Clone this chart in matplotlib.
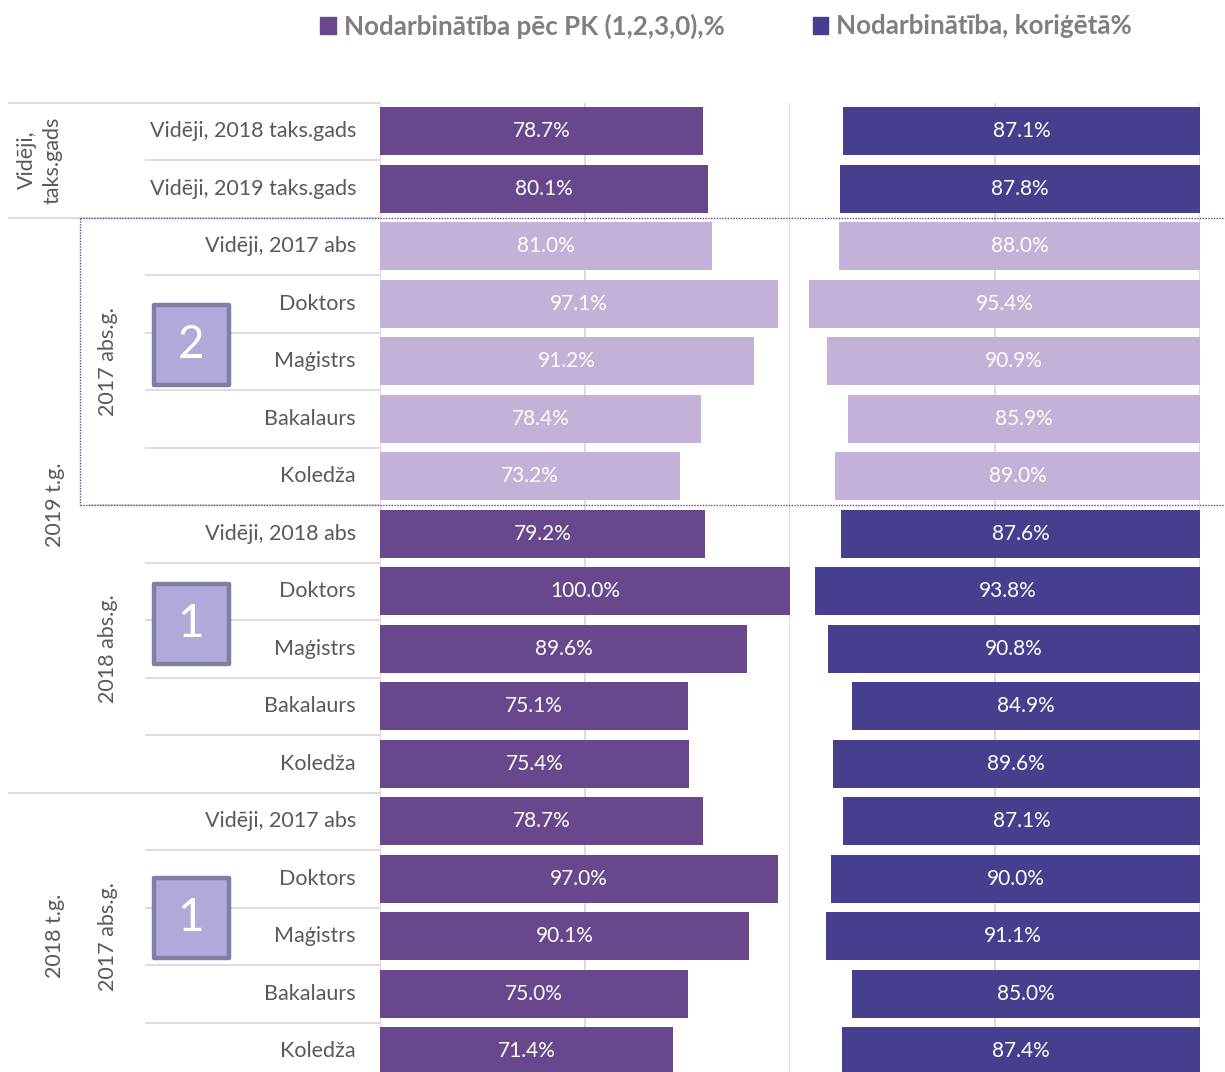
import matplotlib.pyplot as plt
import matplotlib.transforms as mtransforms
from matplotlib.patches import Patch, Rectangle
from matplotlib.lines import Line2D

plt.rcParams['font.family'] = ['Lato', 'DejaVu Sans']

# --- data -------------------------------------------------------------
rows = ['Vidēji, 2018 taks.gads', 'Vidēji, 2019 taks.gads',
        'Vidēji, 2017 abs', 'Doktors', 'Maģistrs', 'Bakalaurs', 'Koledža',
        'Vidēji, 2018 abs', 'Doktors', 'Maģistrs', 'Bakalaurs', 'Koledža',
        'Vidēji, 2017 abs', 'Doktors', 'Maģistrs', 'Bakalaurs', 'Koledža']
pk = [78.7, 80.1, 81.0, 97.1, 91.2, 78.4, 73.2, 79.2, 100.0, 89.6,
      75.1, 75.4, 78.7, 97.0, 90.1, 75.0, 71.4]
kor = [87.1, 87.8, 88.0, 95.4, 90.9, 85.9, 89.0, 87.6, 93.8, 90.8,
       84.9, 89.6, 87.1, 90.0, 91.1, 85.0, 87.4]
light_rows = [2, 3, 4, 5, 6]

# hierarchy: (label, first row, last row)
year_groups = [('Vidēji,\ntaks.gads', 0, 1), ('2019 t.g.', 2, 11),
               ('2018 t.g.', 12, 16)]
abs_groups = [('2017 abs.g.', 2, 6), ('2018 abs.g.', 7, 11),
              ('2017 abs.g.', 12, 16)]
badges = [('2', 3.72), ('1', 8.57), ('1', 13.68)]

series_names = ['Nodarbinātība pēc PK (1,2,3,0),%', 'Nodarbinātība, koriģētā%']

# --- style ------------------------------------------------------------
c_pk = '#68478D'
c_kor = '#463F8E'
c_light = '#C3B1D7'
c_grid = '#D9D9D9'
c_text = '#595959'
fs = 15.5

W, H = 1225, 1072
fig = plt.figure(figsize=(W / 100, H / 100), dpi=100)

n = len(rows)
top_px, row_px = 102.5, 57.5
ax_h = n * row_px / H
ax_b = 1 - top_px / H - ax_h

ax_lab = fig.add_axes([0, ax_b, 380 / W, ax_h])
ax1 = fig.add_axes([380 / W, ax_b, 410 / W, ax_h], sharey=ax_lab)
ax2 = fig.add_axes([790 / W, ax_b, 410 / W, ax_h], sharey=ax_lab)

ax_lab.set_xlim(0, 380)
ax_lab.set_ylim(n - 0.5, -0.5)
ax1.set_xlim(0, 100)
ax2.set_xlim(100, 0)
for ax in (ax_lab, ax1, ax2):
    ax.axis('off')

y = list(range(n))
col1 = [c_light if i in light_rows else c_pk for i in y]
col2 = [c_light if i in light_rows else c_kor for i in y]

ax1.vlines([0, 50, 100], -0.5, n - 0.5, colors=c_grid, linewidth=1.3, zorder=0)
ax2.vlines([0, 50], -0.5, n - 0.5, colors=c_grid, linewidth=1.3, zorder=0)

ax1.barh(y, pk, height=0.835, color=col1, zorder=2)
ax2.barh(y, kor, height=0.835, color=col2, zorder=2)

for i in y:
    ax1.text(pk[i] / 2, i, f'{pk[i]:.1f}%', ha='center', va='center',
             color='white', fontsize=15, zorder=3)
    ax2.text(kor[i] / 2, i, f'{kor[i]:.1f}%', ha='center', va='center',
             color='white', fontsize=15, zorder=3)

# --- category labels and separators -----------------------------------
for i, lab in enumerate(rows):
    ax_lab.text(356, i, lab, ha='right', va='center', fontsize=fs,
                color=c_text)

sep_kw = dict(colors=c_grid, linewidth=1.3, clip_on=False)
group_edges = [g[1] for g in year_groups] + [g[1] for g in abs_groups]
for i in range(1, n):
    if i not in group_edges:
        ax_lab.hlines(i - 0.5, 145, 380, **sep_kw)
for name, a, b in year_groups:
    ax_lab.hlines(a - 0.5, 8, 380, **sep_kw)
for name, a, b in abs_groups:
    if a not in [g[1] for g in year_groups]:
        ax_lab.hlines(a - 0.5, 88, 380, **sep_kw)

for name, a, b in year_groups:
    x = 40 if '\n' in name else 55
    ax_lab.text(x, (a + b) / 2, name, rotation=90, ha='center', va='center',
                fontsize=fs, color=c_text, linespacing=1.35,
                multialignment='center')
for name, a, b in abs_groups:
    ax_lab.text(108, (a + b) / 2, name, rotation=90, ha='center',
                va='center', fontsize=fs, color=c_text)

# numbered badges
for txt, yc in badges:
    bh = 80 / row_px
    ax_lab.add_patch(Rectangle((191 - 37.5, yc - bh / 2), 75, bh,
                               facecolor='#AEAADA', edgecolor='#827EA3',
                               linewidth=3.2, joinstyle='round', zorder=4))
    ax_lab.text(191, yc, txt, ha='center', va='center', color='white',
                fontsize=33, zorder=5)

# dotted highlight frame round the light group
tr = mtransforms.blended_transform_factory(fig.transFigure, ax1.transData)
a, b = light_rows[0] - 0.5, light_rows[-1] + 0.5
dot_kw = dict(transform=tr, color='#5E4C8C', linewidth=1.0,
              linestyle=(0, (1, 1)), zorder=6)
fig.add_artist(Line2D([80 / W, 1.0], [a, a], **dot_kw))
fig.add_artist(Line2D([80 / W, 1.0], [b, b], **dot_kw))
fig.add_artist(Line2D([80 / W, 80 / W], [a, b], **dot_kw))

# --- legend -----------------------------------------------------------
handles = [Patch(color=c_pk, label=series_names[0]),
           Patch(color=c_kor, label=series_names[1])]
leg = fig.legend(handles=handles, loc='center',
                 bbox_to_anchor=(726 / W, 1 - 26 / H), ncol=2,
                 frameon=False, handlelength=0.6, handleheight=0.6,
                 handletextpad=0.3, columnspacing=3.4,
                 prop=dict(weight='bold', size=18.7))
for t in leg.get_texts():
    t.set_color('#7F7F7F')

fig.savefig('out.png', dpi=100)
